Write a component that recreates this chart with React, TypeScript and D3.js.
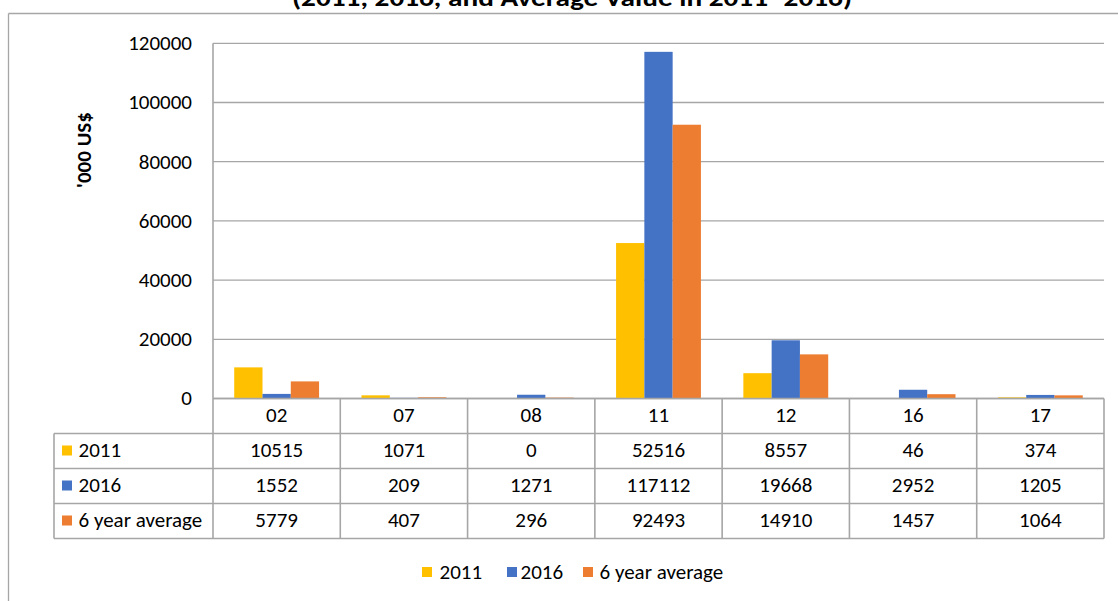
import React from "react";
import * as d3 from "d3";

const categories = ["02", "07", "08", "11", "12", "16", "17"];
const seriesNames = ["2011", "2016", "6 year average"];
const values2011 = [10515, 1071, 0, 52516, 8557, 46, 374];
const values2016 = [1552, 209, 1271, 117112, 19668, 2952, 1205];
const valuesAvg = [5779, 407, 296, 92493, 14910, 1457, 1064];
const yTicks = [0, 20000, 40000, 60000, 80000, 100000, 120000];
const colors = ["#FFC000", "#4472C4", "#ED7D31"];
const titleText = "(2011, 2016, and Average Value in 2011- 2016)";
const yLabel = "'000 US$";

const FONT = "Carlito, Calibri, Lato, sans-serif";

export default function App() {
  const W = 1118;
  const H = 601;
  const left = 213;
  const right = 1104;
  const top = 43.3;
  const zeroY = 398.5;
  const rowH = 35;
  const tableLeft = 54;
  const series = [values2011, values2016, valuesAvg];

  const x0 = d3.scaleBand<string>().domain(categories).range([left, right]).padding(0);
  const x1 = d3
    .scaleBand<string>()
    .domain(seriesNames)
    .range([0, x0.bandwidth()])
    .paddingInner(0)
    .paddingOuter(0.75);
  const y = d3.scaleLinear().domain([0, 120000]).range([zeroY, top]);

  const grid = "#a6a6a6";
  const fs = 21;
  const tableBottom = zeroY + rowH * 4;

  return (
    <svg
      width={W}
      height={H}
      style={{ position: "absolute", left: 0, top: 0, background: "#fff" }}
      fontFamily={FONT}
    >
      <rect x={0} y={0} width={W} height={H} fill="#fff" />
      {/* outer chart border */}
      <line x1={8.5} y1={13.5} x2={W + 10} y2={13.5} stroke={grid} strokeWidth={1.3} />
      <line x1={8.5} y1={13.5} x2={8.5} y2={H + 10} stroke={grid} strokeWidth={1.3} />

      {/* title (cut off at top, as in the reference) */}
      <text
        x={572}
        y={6}
        textAnchor="middle"
        fontWeight="bold"
        fontSize={24.5}
        fill="#000"
        textLength={560}
        lengthAdjust="spacingAndGlyphs"
      >
        {titleText}
      </text>

      {/* gridlines */}
      {yTicks.map((t) => (
        <line
          key={"g" + t}
          x1={left}
          x2={right}
          y1={y(t)}
          y2={y(t)}
          stroke={grid}
          strokeWidth={1.3}
        />
      ))}
      {/* y tick labels */}
      {yTicks.map((t) => (
        <text key={"t" + t} x={192} y={y(t) + 6.8} textAnchor="end" fontSize={fs} fill="#000">
          {t}
        </text>
      ))}
      {/* y axis label */}
      <text
        transform={`translate(91,150) rotate(-90)`}
        textAnchor="middle"
        fontWeight="bold"
        fontSize={fs}
        fill="#000"
      >
        {yLabel}
      </text>

      {/* bars */}
      {categories.map((c, i) => (
        <g key={"bg" + c} transform={`translate(${x0(c)},0)`}>
          {seriesNames.map((s, j) => {
            const v = series[j][i];
            return (
              <rect
                key={s}
                x={x1(s)}
                y={y(v)}
                width={x1.bandwidth()}
                height={Math.max(0, zeroY - y(v))}
                fill={colors[j]}
              />
            );
          })}
        </g>
      ))}

      {/* data table */}
      <line x1={left} x2={right} y1={zeroY} y2={zeroY} stroke={grid} strokeWidth={1.6} />
      {[1, 2, 3, 4].map((r) => (
        <line
          key={"hr" + r}
          x1={tableLeft}
          x2={right}
          y1={zeroY + r * rowH}
          y2={zeroY + r * rowH}
          stroke={grid}
          strokeWidth={1.6}
        />
      ))}
      <line x1={tableLeft} x2={tableLeft} y1={zeroY + rowH} y2={tableBottom} stroke={grid} strokeWidth={1.6} />
      <line x1={left} x2={left} y1={top} y2={tableBottom} stroke={grid} strokeWidth={1.6} />
      {categories.map((c) => (
        <line
          key={"vl" + c}
          x1={(x0(c) as number) + x0.bandwidth()}
          x2={(x0(c) as number) + x0.bandwidth()}
          y1={zeroY}
          y2={tableBottom}
          stroke={grid}
          strokeWidth={1.6}
        />
      ))}
      {categories.map((c) => (
        <text
          key={"cl" + c}
          x={(x0(c) as number) + x0.bandwidth() / 2}
          y={zeroY + 23.8}
          textAnchor="middle"
          fontSize={fs}
          fill="#000"
        >
          {c}
        </text>
      ))}
      {seriesNames.map((s, j) => {
        const rowTop = zeroY + rowH * (j + 1);
        return (
          <g key={"row" + s}>
            <rect x={62} y={rowTop + 12} width={10} height={10} fill={colors[j]} />
            <text x={78.5} y={rowTop + 23.8} fontSize={fs} fill="#000">
              {s}
            </text>
            {categories.map((c, i) => (
              <text
                key={c}
                x={(x0(c) as number) + x0.bandwidth() / 2}
                y={rowTop + 23.8}
                textAnchor="middle"
                fontSize={fs}
                fill="#000"
              >
                {series[j][i]}
              </text>
            ))}
          </g>
        );
      })}

      {/* bottom legend */}
      {[
        { sx: 422, tx: 439.5 },
        { sx: 507, tx: 520.5 },
        { sx: 583, tx: 599.5 },
      ].map((p, j) => (
        <g key={"lg" + j}>
          <rect x={p.sx} y={567} width={10} height={10} fill={colors[j]} />
          <text x={p.tx} y={578.8} fontSize={fs} fill="#000">
            {seriesNames[j]}
          </text>
        </g>
      ))}
    </svg>
  );
}
